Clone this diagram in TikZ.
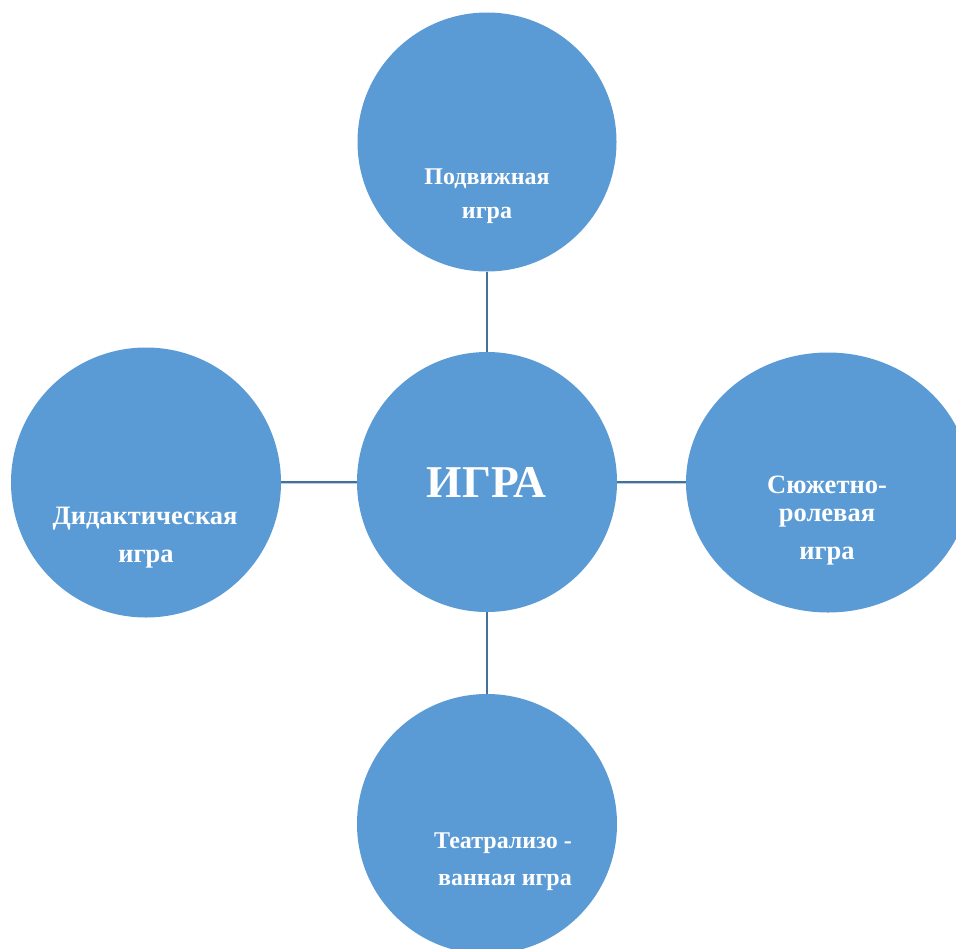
\documentclass[tikz,border=0pt]{standalone}
\usepackage{fontspec}
\setmainfont{Liberation Serif}
\usetikzlibrary{shapes.geometric}
\definecolor{bubble}{HTML}{5B9BD5}
\definecolor{linkc}{HTML}{41719C}
\tikzset{
  bubble/.style={circle,fill=bubble,draw=none,inner sep=0pt,minimum size=#1},
  bubbletext/.style={text=white,font=\bfseries\fontsize{24}{28}\selectfont,anchor=base,inner sep=0pt},
  bigtext/.style={bubbletext,font=\bfseries\fontsize{26.5}{30}\selectfont},
  link/.style={draw=linkc,line width=2.2pt}
}
\begin{document}
\begin{tikzpicture}[x=1pt,y=-1pt]
\useasboundingbox (0,0) rectangle (956,948);
\clip (0,0) rectangle (956,948);
\node[bubble=259pt] (top) at (487,142) {};
\node[bubble=260pt] (mid) at (487,482) {};
\node[bubble=270pt] (left) at (146,482.5) {};
\node[ellipse,fill=bubble,inner sep=0pt,minimum width=284pt,minimum height=260pt] (right) at (828,482.5) {};
\node[bubble=260pt] (bot) at (487,824) {};
\draw[link] (top) -- (mid);
\draw[link] (left) -- (mid);
\draw[link] (mid) -- (right);
\draw[link] (mid) -- (bot);
\node[bubbletext,font=\bfseries\fontsize{45.5}{50}\selectfont] (t0) at (486.5,497) {ИГРА};
\node[bubbletext] (t1a) at (487,184) {Подвижная};
\node[bubbletext] (t1b) at (487,218) {игра};
\node[bigtext] (t2a) at (145,524) {Дидактическая};
\node[bigtext] (t2b) at (146,562) {игра};
\node[bigtext] (t3a) at (827,493) {Сюжетно-};
\node[bigtext] (t3b) at (827,521) {ролевая};
\node[bigtext] (t3c) at (827,559) {игра};
\node[bubbletext] (t4a) at (503,848) {Театрализо -};
\node[bubbletext] (t4b) at (505,885) {ванная игра};
\end{tikzpicture}
\end{document}
